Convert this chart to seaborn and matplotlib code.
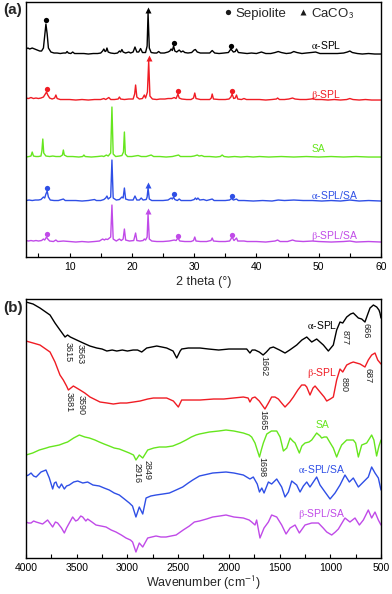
import numpy as np
import matplotlib
matplotlib.use("Agg")
import matplotlib.pyplot as plt
from matplotlib.lines import Line2D
from matplotlib.ticker import MultipleLocator
import seaborn as sns

# ---------------- XRD: (2 theta, intensity above baseline) ----------------
xrd_aspl = [(3.0, 5), (3.3, 6), (3.6, 5), (4.0, 6), (4.4, 5), (4.8, 4), (5.2, 3), (5.5, 3),
            (5.8, 6), (6.0, 18), (6.2, 30), (6.4, 20), (6.6, 6), (7.0, 2), (7.5, 1), (8.0, 1),
            (8.5, 0.5), (9.0, 1), (9.4, 1), (9.6, 2.5), (9.8, 1), (10.2, 0.5), (10.5, 2), (10.8, 0.5),
            (11.5, 0.5), (12.3, 0.5), (13.0, 0), (13.8, 0.5), (14.5, 0.5), (15.0, 1), (15.3, 3),
            (15.5, 5), (15.7, 2.5), (15.85, 3), (16.0, 6), (16.2, 2), (16.6, 1), (17.2, 0.5),
            (17.7, 1), (18.0, 3), (18.2, 2), (18.4, 4.5), (18.6, 2), (19.0, 1), (19.5, 2), (19.8, 1),
            (20.2, 2), (20.5, 7), (20.8, 2), (21.1, 2), (21.4, 5.5), (21.7, 1.5), (22.2, 1.5),
            (22.45, 8), (22.6, 41), (22.8, 6), (23.1, 1.5), (23.6, 1), (24.0, 1), (24.3, 2.5),
            (24.6, 1), (25.2, 1), (25.8, 2), (26.1, 3), (26.3, 5), (26.5, 3.5), (26.7, 8), (26.9, 3),
            (27.2, 2), (27.6, 4), (27.9, 2), (28.2, 3), (28.5, 1.5), (29.0, 1), (29.6, 1.5),
            (30.0, 4), (30.2, 4.5), (30.5, 2), (31.0, 1), (31.8, 1), (32.5, 1), (32.9, 3.5),
            (33.3, 1), (34.0, 0.5), (34.8, 1), (35.5, 1.5), (35.9, 5), (36.3, 2), (36.6, 2.5),
            (36.8, 5), (37.1, 1.5), (37.8, 1), (38.5, 0.5), (39.2, 1), (40.0, 0.5), (40.8, 2),
            (41.5, 0.5), (42.3, 0.5), (43.0, 1.5), (43.5, 2.5), (44.0, 1.5), (44.8, 0.5), (45.5, 1),
            (46.0, 2.5), (46.5, 1.5), (47.3, 0.5), (48.0, 1), (48.8, 1.5), (49.5, 2), (50.2, 0.5),
            (51.0, 0.5), (52.0, 0.5), (53.0, 0.5), (54.0, 1), (54.6, 2), (55.0, 3), (55.4, 1.5),
            (56.2, 0.5), (57.0, 0), (58.0, 0.5), (59.0, 0), (60.0, 0)]
xrd_bspl = [(3.0, 2), (3.4, 1.5), (3.8, 2.5), (4.2, 1.5), (4.6, 2), (5.0, 1.5), (5.4, 2), (5.8, 3),
            (6.1, 6), (6.3, 8), (6.5, 5), (6.8, 2), (7.2, 1), (7.6, 2), (7.8, 5), (8.0, 1.5),
            (8.5, 0.5), (9.2, 0.5), (10.0, 0.5), (11.0, 0), (12.0, 0.5), (13.0, 0), (14.0, 0.5),
            (15.0, 0.5), (15.5, 1.5), (15.8, 0.5), (16.3, 2.5), (16.6, 0.5), (17.2, 0.5), (17.8, 1),
            (18.0, 3), (18.2, 1), (18.8, 0.5), (19.5, 1), (20.2, 1), (20.45, 6), (20.6, 15),
            (20.8, 3), (21.2, 1), (21.7, 1.5), (22.0, 5), (22.2, 2), (22.5, 8), (22.7, 39),
            (22.9, 4), (23.3, 1), (24.0, 0.5), (24.5, 1), (25.3, 1), (25.8, 1.5), (26.4, 1.5),
            (26.8, 2.5), (27.1, 1.5), (27.4, 6), (27.6, 2), (28.0, 1), (28.8, 0.5), (29.5, 0.5),
            (29.9, 2), (30.1, 7), (30.3, 1.5), (31.0, 0.5), (31.8, 0.5), (32.5, 0.5), (32.75, 2),
            (32.9, 6), (33.1, 1), (34.0, 0.5), (35.0, 0.5), (35.6, 1), (35.9, 3), (36.1, 6),
            (36.35, 1.5), (36.6, 2), (36.8, 5), (37.0, 1), (37.6, 0.5), (38.0, 1.5), (38.4, 0.5),
            (39.5, 0.5), (40.5, 0.5), (41.5, 0), (42.5, 0.5), (43.2, 1), (43.4, 2), (43.7, 0.5),
            (44.5, 0.5), (45.2, 1), (45.8, 2), (46.2, 1), (47.0, 0.5), (48.0, 0.5), (48.8, 1),
            (49.1, 1.5), (49.5, 0.5), (50.5, 0.5), (51.5, 0), (52.5, 0.5), (53.5, 0), (54.5, 0.5),
            (55.0, 1.5), (55.5, 0.5), (56.5, 0), (57.5, 0.5), (58.5, 0), (60.0, 0)]
xrd_sa = [(3.0, 0), (3.5, 0.5), (3.8, 1), (4.0, 5), (4.2, 1), (4.6, 0.5), (5.0, 0.5), (5.4, 1),
          (5.55, 6), (5.7, 18), (5.85, 4), (6.2, 1), (6.8, 0.5), (7.3, 1), (7.8, 0.5), (8.5, 0.5),
          (8.85, 2), (9.0, 7), (9.15, 2), (9.6, 0.5), (10.5, 0.5), (11.5, 0), (12.1, 0.5),
          (12.3, 2), (12.5, 0.5), (13.5, 0), (14.5, 0.5), (15.2, 1), (15.5, 0.5), (15.9, 2),
          (16.2, 1), (16.6, 4), (16.8, 50), (17.0, 3), (17.4, 0.5), (18.0, 1), (18.4, 1.5),
          (18.65, 5), (18.8, 25), (18.95, 3), (19.3, 0.5), (20.0, 0.5), (21.0, 1.5), (21.5, 0.5),
          (22.3, 0.5), (23.1, 2), (23.5, 0.5), (24.5, 0.5), (25.5, 0), (26.5, 0.5), (27.5, 2),
          (27.8, 0.5), (28.5, 0.5), (29.5, 0.5), (30.0, 1), (30.5, 2), (30.8, 1), (31.2, 1.5),
          (31.6, 0.5), (32.5, 0.5), (33.5, 0), (34.2, 0.5), (34.5, 2), (34.8, 0.5), (35.5, 0),
          (36.5, 0.5), (37.5, 0), (38.5, 0.5), (39.5, 0), (40.5, 0.5), (42.0, 0), (44.0, 0.5),
          (46.0, 0), (48.0, 0.5), (50.0, 0), (52.0, 0.5), (54.0, 0), (56.0, 0.5), (58.0, 0),
          (60.0, 0)]
xrd_asplsa = [(3.0, 0.5), (3.5, 1), (4.0, 0.5), (4.5, 1), (5.0, 1), (5.4, 1.5), (5.8, 4), (6.0, 3),
              (6.2, 7), (6.4, 10), (6.6, 4), (6.9, 1), (7.5, 0.5), (8.2, 0.5), (9.0, 2), (9.3, 0.5),
              (10.0, 0.5), (11.0, 0.5), (12.0, 0), (13.0, 0.5), (14.0, 1.5), (14.3, 0.5), (15.0, 0.5),
              (15.5, 1.5), (15.8, 3), (16.0, 5), (16.2, 2), (16.6, 4), (16.8, 41), (17.0, 3),
              (17.5, 1), (18.0, 1.5), (18.4, 4), (18.6, 3), (18.8, 13), (19.0, 2), (19.5, 1),
              (20.2, 1), (20.5, 5), (20.8, 1), (21.2, 1), (21.5, 3), (21.8, 1), (22.3, 1.5),
              (22.45, 4), (22.6, 13), (22.8, 2), (23.2, 0.5), (24.0, 0.5), (25.0, 0.5), (25.8, 1),
              (26.3, 3), (26.5, 2), (26.7, 4), (26.9, 1.5), (27.3, 0.5), (27.6, 2), (27.9, 0.5),
              (28.5, 0.5), (29.5, 0.5), (30.0, 1.5), (30.2, 3), (30.4, 1.5), (30.6, 3), (30.9, 1),
              (31.5, 1.5), (32.0, 0.5), (32.9, 2), (33.2, 0.5), (34.0, 0.5), (35.0, 0.5), (35.7, 1),
              (36.0, 2.5), (36.3, 1), (36.8, 2), (37.1, 0.5), (38.0, 0.5), (39.5, 0), (41.0, 0.5),
              (42.5, 0), (43.5, 1), (44.5, 0.5), (46.0, 1), (47.5, 0.5), (49.0, 0.5), (50.5, 0),
              (52.0, 0.5), (53.5, 0), (55.0, 1), (56.5, 0), (58.0, 0.5), (60.0, 0)]
xrd_bsplsa = [(3.0, 1.5), (3.4, 1), (3.8, 1.5), (4.2, 1), (4.6, 1.5), (5.0, 1), (5.5, 1.5), (5.8, 3),
              (6.0, 2), (6.3, 5), (6.5, 3), (6.8, 1), (7.4, 0.5), (7.8, 2), (8.1, 0.5), (9.0, 1),
              (10.0, 0.5), (11.0, 0), (12.0, 0.5), (13.0, 0), (14.0, 0.5), (14.8, 1), (15.3, 3),
              (15.6, 2), (15.8, 3), (16.1, 2.5), (16.4, 4), (16.6, 5), (16.8, 37), (17.0, 3),
              (17.5, 1), (18.0, 3), (18.3, 1.5), (18.6, 3), (18.8, 13), (19.0, 2), (19.6, 1),
              (20.3, 1.5), (20.6, 9), (20.8, 1.5), (21.3, 1), (21.8, 1.5), (22.0, 3), (22.2, 2),
              (22.45, 5), (22.6, 28), (22.8, 3), (23.2, 1), (24.0, 0.5), (25.0, 0.5), (26.0, 1),
              (26.8, 2), (27.1, 1.5), (27.4, 4), (27.7, 1), (28.5, 0.5), (29.5, 0.5), (29.9, 1.5),
              (30.1, 5), (30.3, 1), (31.0, 0.5), (32.0, 0.5), (32.7, 1.5), (32.9, 4), (33.1, 1),
              (34.0, 0.5), (35.0, 0.5), (35.7, 1), (36.1, 5), (36.4, 1.5), (36.8, 4), (37.0, 1),
              (38.0, 1), (38.5, 0.5), (40.0, 0.5), (41.5, 0), (43.0, 1), (43.4, 2), (43.8, 0.5),
              (45.0, 0.5), (45.8, 2), (46.3, 1), (47.5, 0.5), (49.0, 1), (50.0, 0.5), (52.0, 0),
              (54.0, 0.5), (55.0, 1), (56.0, 0), (58.0, 0.5), (60.0, 0)]

# phase markers: (2 theta, height above baseline)
sep_aspl = [(6.2, 34), (26.7, 11), (35.9, 8)]
cal_aspl = [(22.6, 44)]
sep_bspl = [(6.3, 11), (27.4, 9), (36.1, 9)]
cal_bspl = [(22.7, 42)]
sep_asplsa = [(6.4, 13), (26.7, 7), (36.0, 5.5)]
cal_asplsa = [(22.6, 16)]
sep_bsplsa = [(6.4, 8), (27.4, 6.5), (36.1, 7.5)]
cal_bsplsa = [(22.6, 31)]

# ---------------- FTIR: (wavenumber, transmittance a.u., stacked) ----------------
ir_aspl = [(4000, 256), (3930, 254), (3862, 250), (3763, 243), (3714, 235), (3665, 228), (3615, 221),
           (3590, 223), (3563, 221), (3500, 218), (3436, 215), (3370, 212), (3302, 210), (3250, 209),
           (3203, 207), (3150, 208), (3105, 207), (3050, 208), (3000, 207), (2944, 208), (2900, 208),
           (2859, 206), (2810, 210), (2760, 211), (2711, 212), (2660, 211), (2613, 210), (2550, 207),
           (2514, 200), (2480, 207), (2465, 209), (2400, 210), (2284, 210), (2200, 209), (2100, 208),
           (2000, 209), (1900, 209), (1824, 209), (1792, 205), (1770, 208), (1742, 208), (1700, 206),
           (1662, 203), (1630, 206), (1594, 210), (1561, 211), (1500, 208), (1446, 205), (1400, 208),
           (1331, 213), (1280, 218), (1232, 221), (1183, 216), (1134, 219), (1068, 213), (1019, 207),
           (970, 213), (937, 228), (904, 236), (877, 235), (838, 241), (800, 244), (773, 245),
           (723, 240), (690, 239), (658, 236), (630, 244), (608, 250), (575, 253), (542, 251),
           (520, 248), (510, 245), (500, 240)]
ir_bspl = [(4000, 217), (3930, 215), (3862, 213), (3763, 206), (3714, 196), (3665, 183), (3632, 178),
           (3600, 172), (3582, 168), (3533, 172), (3467, 168), (3420, 165), (3369, 161), (3270, 156),
           (3200, 155), (3139, 154), (3070, 155), (3007, 155), (2940, 156), (2875, 157), (2800, 159),
           (2744, 160), (2680, 160), (2613, 160), (2547, 157), (2498, 151), (2465, 158), (2400, 158),
           (2284, 158), (2150, 159), (2050, 159), (1955, 160), (1857, 161), (1810, 160), (1792, 156),
           (1770, 160), (1742, 161), (1700, 157), (1644, 149), (1610, 155), (1578, 161), (1545, 161),
           (1512, 159), (1480, 155), (1446, 151), (1400, 156), (1364, 161), (1320, 168), (1282, 173),
           (1250, 173), (1232, 171), (1200, 163), (1170, 170), (1150, 172), (1101, 166), (1060, 161),
           (1035, 157), (1000, 159), (970, 161), (937, 178), (904, 189), (877, 186), (838, 193),
           (800, 195), (773, 196), (740, 195), (706, 194), (658, 191), (625, 198), (592, 203),
           (559, 205), (532, 198), (500, 194)]
ir_sa = [(4000, 103), (3934, 105), (3869, 108), (3800, 110), (3770, 111), (3720, 112), (3672, 113),
         (3620, 115), (3590, 116), (3530, 120), (3474, 123), (3420, 121), (3375, 120), (3320, 118),
         (3277, 116), (3230, 114), (3179, 112), (3130, 110), (3080, 109), (3030, 107), (2981, 105),
         (2940, 103), (2916, 98), (2883, 103), (2849, 100), (2800, 108), (2740, 110), (2685, 111),
         (2620, 111), (2553, 112), (2480, 115), (2422, 118), (2370, 121), (2324, 123), (2290, 124),
         (2192, 126), (2100, 127), (2028, 128), (1950, 127), (1857, 125), (1800, 123), (1775, 121),
         (1742, 115), (1720, 108), (1698, 101), (1680, 108), (1660, 115), (1626, 124), (1580, 127),
         (1528, 127), (1495, 121), (1462, 107), (1429, 110), (1396, 120), (1370, 117), (1347, 115),
         (1305, 105), (1280, 112), (1249, 115), (1210, 116), (1183, 118), (1134, 125), (1100, 122),
         (1085, 120), (1060, 121), (1035, 121), (1000, 115), (970, 110), (937, 101), (910, 108),
         (888, 113), (838, 118), (800, 118), (773, 118), (750, 115), (723, 101), (690, 113),
         (641, 115), (610, 120), (592, 123), (570, 118), (543, 102), (520, 112), (500, 118)]
ir_asplsa = [(4000, 82), (3975, 83), (3950, 85), (3925, 82), (3900, 81), (3852, 86), (3803, 88),
             (3770, 80), (3737, 69), (3720, 75), (3704, 76), (3690, 72), (3672, 70), (3650, 74),
             (3622, 69), (3600, 72), (3573, 73), (3530, 76), (3490, 77), (3440, 75), (3392, 76),
             (3340, 73), (3277, 72), (3230, 70), (3179, 68), (3130, 65), (3080, 63), (3030, 59),
             (2981, 55), (2950, 52), (2916, 41), (2883, 51), (2849, 44), (2816, 60), (2770, 62),
             (2718, 63), (2650, 64), (2586, 65), (2520, 68), (2455, 71), (2400, 75), (2356, 78),
             (2290, 82), (2159, 85), (2028, 86), (1950, 85), (1857, 83), (1792, 79), (1759, 81),
             (1720, 74), (1698, 66), (1675, 70), (1653, 65), (1610, 76), (1578, 74), (1528, 79),
             (1479, 71), (1446, 61), (1413, 66), (1380, 77), (1331, 73), (1298, 66), (1265, 72),
             (1232, 76), (1200, 71), (1134, 81), (1101, 73), (1052, 66), (1002, 59), (953, 65),
             (904, 73), (855, 83), (812, 76), (773, 80), (723, 71), (674, 76), (625, 81), (592, 91),
             (559, 85), (526, 80), (500, 68)]
ir_bsplsa = [(4000, 36), (3975, 35), (3950, 35), (3925, 37), (3900, 36), (3836, 34), (3787, 38),
             (3737, 31), (3710, 36), (3688, 35), (3650, 30), (3622, 25), (3600, 30), (3573, 35),
             (3540, 41), (3510, 37), (3490, 38), (3460, 42), (3441, 41), (3410, 37), (3392, 39),
             (3350, 36), (3310, 33), (3260, 32), (3211, 31), (3160, 28), (3113, 26), (3060, 23),
             (3014, 20), (2970, 18), (2949, 16), (2916, 6), (2883, 15), (2849, 11), (2800, 20),
             (2760, 21), (2718, 22), (2670, 21), (2619, 21), (2570, 22), (2520, 23), (2450, 28),
             (2389, 32), (2340, 36), (2290, 37), (2220, 39), (2159, 41), (2090, 42), (2028, 43),
             (1950, 41), (1857, 40), (1800, 38), (1775, 36), (1742, 33), (1726, 38), (1693, 20),
             (1653, 30), (1610, 36), (1578, 43), (1528, 41), (1479, 33), (1436, 24), (1396, 30),
             (1347, 33), (1305, 25), (1249, 33), (1183, 35), (1117, 35), (1070, 30), (1035, 26),
             (986, 23), (950, 26), (920, 29), (855, 40), (806, 36), (756, 40), (713, 33), (674, 38),
             (625, 48), (592, 40), (559, 46), (526, 38), (500, 33)]

sample_names = [r"$\mathrm{\alpha}$-SPL", r"$\mathrm{\beta}$-SPL", "SA",
                r"$\mathrm{\alpha}$-SPL/SA", r"$\mathrm{\beta}$-SPL/SA"]

# ---------------- style ----------------
sns.set_theme(style="ticks")
plt.rcParams["font.family"] = ["Liberation Sans", "DejaVu Sans"]
plt.rcParams["mathtext.fontset"] = "stix"
plt.rcParams["axes.linewidth"] = 1.0

colors = ["#000000", "#f01c24", "#66e61e", "#2f4fe6", "#c04ae8"]
xrd_offsets = [203, 157, 100, 56, 15]

fig = plt.figure(figsize=(3.92, 5.94), dpi=100)
ax1 = fig.add_axes([0.0663, 0.5673, 0.9056, 0.4293])
ax2 = fig.add_axes([0.0663, 0.0606, 0.9056, 0.4360])

# ---- panel (a): XRD ----
xrd_sets = [xrd_aspl, xrd_bspl, xrd_sa, xrd_asplsa, xrd_bsplsa]
sep_sets = [sep_aspl, sep_bspl, [], sep_asplsa, sep_bsplsa]
cal_sets = [cal_aspl, cal_bspl, [], cal_asplsa, cal_bsplsa]
label_y_a = [212, 162, 108, 62, 21]
for data, off, col, name, sep, cal, ly in zip(xrd_sets, xrd_offsets, colors, sample_names,
                                              sep_sets, cal_sets, label_y_a):
    x, y = np.array(data).T
    sns.lineplot(x=x, y=y + off, ax=ax1, color=col, lw=1.0, estimator=None)
    if sep:
        sx, sy = np.array(sep).T
        ax1.plot(sx, sy + off, "o", color=col, ms=3.8, mec="none")
    if cal:
        cx, cy = np.array(cal).T
        ax1.plot(cx, cy + off, "^", color=col, ms=4.4, mec="none")
    ax1.text(48.8, ly, name, color=col, fontsize=7.5, ha="left", va="center")

ax1.set_xlim(3, 60)
ax1.set_ylim(0, 255)
ax1.set_yticks([])
ax1.xaxis.set_major_locator(MultipleLocator(10))
ax1.xaxis.set_minor_locator(MultipleLocator(5))
ax1.set_xlabel("2 theta (\u00b0)", fontsize=9, labelpad=3)
ax1.set_ylabel("")

handles = [Line2D([], [], ls="none", marker="o", color="k", ms=3.8, mec="none"),
           Line2D([], [], ls="none", marker="^", color="k", ms=4.4, mec="none")]
ax1.legend(handles, ["Sepiolite", r"CaCO$_{\mathsf{3}}$"], loc="upper right",
           bbox_to_anchor=(0.945, 1.015), ncol=2, frameon=False, fontsize=9.5,
           handlelength=0.6, handletextpad=0.25, columnspacing=1.0, borderaxespad=0.2)

# ---- panel (b): FTIR ----
ir_sets = [ir_aspl, ir_bspl, ir_sa, ir_asplsa, ir_bsplsa]
label_y_b = [233, 185, 133, 89, 44]
for data, col, name, ly in zip(ir_sets, colors, sample_names, label_y_b):
    x, y = np.array(data).T
    sns.lineplot(x=x, y=y, ax=ax2, color=col, lw=1.0, estimator=None)
    ax2.text(1082, ly, name, color=col, fontsize=7.5, ha="center", va="center")

band_labels = [("3615", 3586, 216), ("3563", 3468, 214), ("3681", 3576, 166), ("3590", 3458, 163),
               ("1662", 1660, 202), ("1665", 1666, 148), ("1698", 1676, 101), ("2916", 2909, 95),
               ("2849", 2810, 98), ("877", 855, 228), ("666", 651, 235), ("880", 865, 181),
               ("687", 631, 190)]
for txt, bx, by in band_labels:
    ax2.text(bx, by, txt, fontsize=6.5, rotation=-90, ha="center", va="top", color="#222222")

ax2.set_xlim(4000, 500)
ax2.set_ylim(0, 259)
ax2.set_yticks([])
ax2.xaxis.set_major_locator(MultipleLocator(500))
ax2.xaxis.set_minor_locator(MultipleLocator(250))
ax2.set_xlabel(r"Wavenumber (cm$^{\mathsf{-1}}$)", fontsize=9, labelpad=1)
ax2.set_ylabel("")

for ax in (ax1, ax2):
    for sp in ax.spines.values():
        sp.set_visible(True)
        sp.set_linewidth(1.0)
        sp.set_color("black")
    ax.tick_params(axis="x", which="both", direction="in", length=3, width=0.8,
                   labelsize=7.5, pad=3.5, bottom=True, top=False, colors="black")
    ax.tick_params(axis="y", left=False, right=False)

fig.text(0.008, 0.983, "(a)", fontsize=11, fontweight="bold", va="center", ha="left")
fig.text(0.008, 0.481, "(b)", fontsize=11, fontweight="bold", va="center", ha="left")

fig.savefig("out.png", dpi=100)
